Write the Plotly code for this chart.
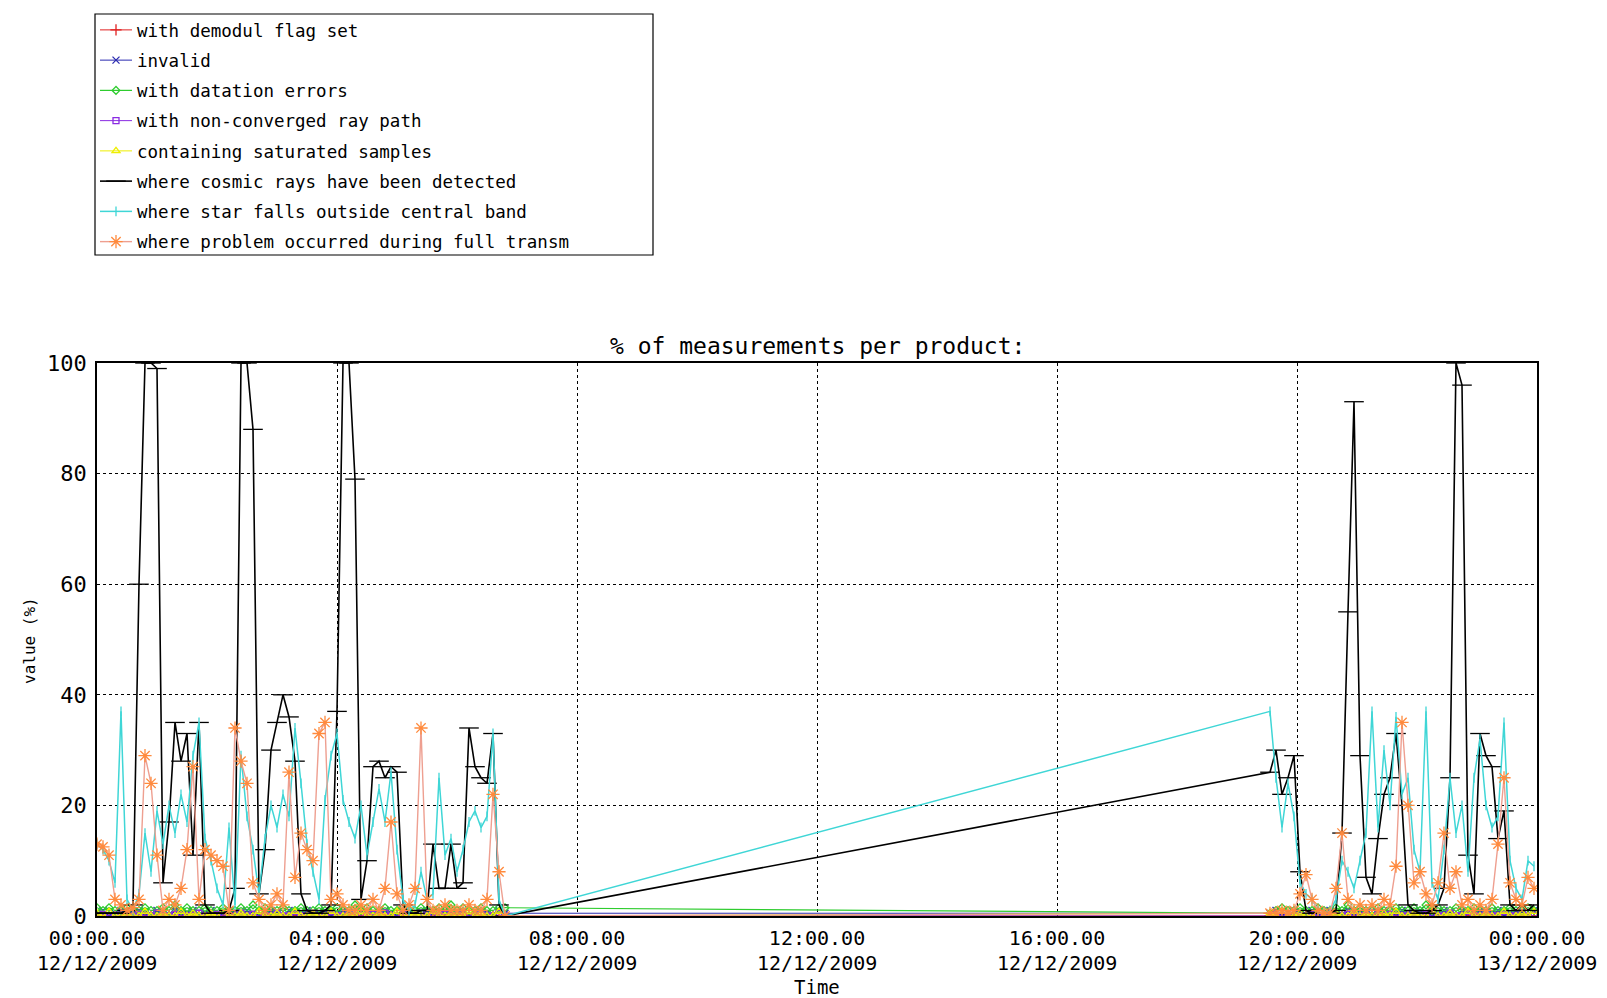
import datetime as dt
import plotly.graph_objects as go

# ---------------- data (hours after 00:00 12/12/2009) ----------------
t_w1 = [0.0, 0.1, 0.2, 0.3, 0.4, 0.5, 0.6, 0.7, 0.8, 0.9,
        1.0, 1.1, 1.2, 1.3, 1.4, 1.5, 1.6, 1.7, 1.8, 1.9,
        2.0, 2.1, 2.2, 2.3, 2.4, 2.5, 2.6, 2.7, 2.8, 2.9,
        3.0, 3.1, 3.2, 3.3, 3.4, 3.5, 3.6, 3.7, 3.8, 3.9,
        4.0, 4.1, 4.2, 4.3, 4.4, 4.5, 4.6, 4.7, 4.8, 4.9,
        5.0, 5.1, 5.2, 5.3, 5.4, 5.5, 5.6, 5.7, 5.8, 5.9,
        6.0, 6.1, 6.2, 6.3, 6.4, 6.5, 6.6, 6.7, 6.8]
t_w2 = [19.55, 19.65, 19.75, 19.85, 19.95, 20.05, 20.15, 20.25, 20.35, 20.45,
        20.55, 20.65, 20.75, 20.85, 20.95, 21.05, 21.15, 21.25, 21.35, 21.45,
        21.55, 21.65, 21.75, 21.85, 21.95, 22.05, 22.15, 22.25, 22.35, 22.45,
        22.55, 22.65, 22.75, 22.85, 22.95, 23.05, 23.15, 23.25, 23.35, 23.45,
        23.55, 23.65, 23.75, 23.85, 23.95]

cosmic_w1 = [0.5, 0.5, 0.5, 0.5, 0.5, 1, 2, 60, 100, 100,
             99, 6, 17, 35, 28, 33, 11, 35, 2, 0.5,
             0.5, 0.5, 1, 5, 100, 100, 88, 4, 12, 30,
             35, 40, 36, 28, 4, 1, 0.5, 0.5, 1, 2,
             37, 100, 100, 79, 3, 10, 27, 28, 25, 27,
             26, 2, 0.5, 0.5, 1, 1, 13, 5, 5, 13,
             5, 6, 34, 27, 25, 24, 33, 2, 0]
cosmic_w2 = [26, 30, 22, 25, 29, 8, 1, 0.5, 0.5, 0.5,
             0.5, 1, 15, 55, 93, 29, 7, 4, 14, 22,
             25, 33, 20, 2, 1, 0.5, 0.5, 1, 2, 5,
             25, 100, 96, 11, 4, 33, 29, 27, 14, 19,
             2, 1, 2, 1, 2]

star_w1 = [13, 12, 10, 6, 37, 3, 1, 4, 15, 8,
           19, 13, 20, 15, 22, 17, 29, 35, 14, 10,
           5, 2, 16, 2, 29, 18, 12, 4, 14, 20,
           16, 22, 18, 34, 24, 13, 8, 3, 21, 29,
           33, 21, 17, 14, 20, 11, 17, 23, 17, 26,
           12, 3, 1, 2, 8, 3, 4, 25, 11, 14,
           8, 12, 17, 19, 16, 18, 33, 3, 0]
star_w2 = [37, 25, 16, 24, 18, 6, 4, 3, 1, 0.5,
           1, 3, 10, 8, 5, 10, 15, 37, 16, 30,
           20, 36, 22, 25, 12, 8, 37, 6, 3, 12,
           25, 15, 20, 8, 25, 32, 20, 16, 18, 35,
           10, 5, 3, 10, 9]

transm_w1 = [13, 12.5, 11, 3, 2, 1, 1.5, 3, 29, 24,
             11, 1, 3, 2, 5, 12, 27, 3, 12, 11,
             10, 9, 1, 34, 28, 24, 6, 3, 1, 2,
             4, 2, 26, 7, 15, 12, 10, 33, 35, 3,
             4, 2, 1, 1, 2, 1, 3, 1, 5, 17,
             4, 1, 2, 5, 34, 3, 1, 1, 2, 1,
             1, 1, 2, 1, 1, 3, 22, 8, 0]
transm_w2 = [0.5, 0.5, 1, 0.5, 1, 4, 7.5, 3, 1, 0.5,
             0.5, 5, 15, 3, 1, 2, 1, 2, 1, 3,
             2, 9, 35, 20, 6, 8, 4, 2, 6, 15,
             5, 8, 2, 3, 1, 2, 1, 3, 13, 25,
             6, 3, 2, 7, 5]

demodul_w1 = [0, 0, 0, 0, 0, 0, 0, 0, 0, 0,
              0, 0, 0, 0, 0, 0, 0, 0, 0, 0,
              0, 0, 0, 0, 0, 0, 0, 0, 0, 0,
              0, 0, 0, 0, 0, 0, 0, 0, 0, 0,
              0, 0, 0, 0, 0, 0, 0, 0, 0, 0,
              0, 0, 0, 0, 0, 0, 0, 0, 0, 0,
              0, 0, 0, 0, 0, 0, 0, 0, 0]
demodul_w2 = [0, 0, 0, 0, 0, 0, 0, 0, 0, 0,
              0, 0, 0, 0, 0, 0, 0, 0, 0, 0,
              0, 0, 0, 0, 0, 0, 0, 0, 0, 0,
              0, 0, 0, 0, 0, 0, 0, 0, 0, 0,
              0, 0, 0, 0, 0]

invalid_w1 = [0.5, 1, 0, 0.5, 1, 0, 0.5, 1, 0.5, 0,
              1, 0.5, 0, 1, 0.5, 0.5, 1, 0, 0.5, 1,
              0, 0.5, 1, 0.5, 0, 1, 0.5, 0, 0.5, 1,
              0.5, 0, 1, 0.5, 0.5, 1, 0, 0.5, 1, 0,
              0.5, 1, 0.5, 0, 1, 0.5, 0, 0.5, 1, 0.5,
              0, 1, 0.5, 0.5, 0, 1, 0.5, 0, 1, 0.5,
              0.5, 1, 0, 0.5, 1, 0.5, 0, 1, 0.5]
invalid_w2 = [0.5, 1, 0, 0.5, 1, 0.5, 0, 1, 0.5, 0,
              1, 0.5, 0, 1, 0.5, 0.5, 1, 0, 0.5, 1,
              0, 0.5, 1, 0.5, 0, 1, 0.5, 0, 0.5, 1,
              0.5, 0, 1, 0.5, 0.5, 1, 0, 0.5, 1, 0,
              0.5, 1, 0.5, 0, 1]

datation_w1 = [1.5, 1, 1.5, 1, 1, 1.5, 1, 1, 1.5, 1,
               1, 1.5, 1, 2, 1, 1.5, 1, 1, 1.5, 1,
               1, 1.5, 1, 1, 1.5, 1, 2, 1, 1.5, 1,
               1, 1.5, 1, 1, 1.5, 1, 1, 1.5, 1, 1,
               1.5, 1, 1, 2, 1, 1.5, 1, 1, 1.5, 1,
               1, 1.5, 1, 1, 1.5, 1, 1, 1.5, 1, 2,
               1, 1.5, 1, 1, 1.5, 1, 1, 1.5, 1.5]
datation_w2 = [0.5, 1, 1.5, 1, 1, 1.5, 1, 1, 1.5, 1,
               1, 1.5, 1, 2, 1, 1.5, 1, 1, 1.5, 1,
               1, 1.5, 1, 1, 1.5, 1, 2, 1, 1.5, 1,
               1, 1.5, 1, 1, 1.5, 1, 1, 1.5, 1, 1,
               1.5, 1, 1, 1.5, 1]

rayp_w1 = [0, 0.3, 0, 0, 0.5, 0, 0, 0.3, 0, 0,
           0.5, 0, 0, 0.3, 0, 0, 0, 0.5, 0, 0,
           0.3, 0, 0, 0, 0.5, 0, 0.3, 0, 0, 0,
           0.5, 0, 0, 0.3, 0, 0, 0.5, 0, 0, 0.3,
           0, 0, 0.5, 0, 0, 0, 0.3, 0, 0.5, 0,
           0, 0.3, 0, 0, 0.5, 0, 0, 0, 0.3, 0,
           0, 0.5, 0, 0, 0.3, 0, 0, 0.5, 0]
rayp_w2 = [0, 0.3, 0, 0, 0.5, 0, 0, 0.3, 0, 0,
           0.5, 0, 0, 0.3, 0, 0, 0, 0.5, 0, 0,
           0.3, 0, 0, 0, 0.5, 0, 0.3, 0, 0, 0,
           0.5, 0, 0, 0.3, 0, 0, 0.5, 0, 0, 0.3,
           0, 0, 0.5, 0, 0]

satur_w1 = [0.5, 0, 0.8, 0, 0, 0.5, 0, 0, 0.8, 0,
            0, 0.5, 0, 0, 0.8, 0, 0.5, 0, 0, 0.5,
            0, 0.8, 0, 0, 0.5, 0, 0, 0.8, 0, 0,
            0.5, 0, 0, 0.8, 0, 0, 0.5, 0, 0, 0.8,
            0, 0, 0.5, 0, 0.8, 0, 0, 0.5, 0, 0,
            0.8, 0, 0, 0.5, 0, 0, 0.8, 0, 0, 0.5,
            0, 0, 0.8, 0, 0.5, 0, 0, 0.8, 0]
satur_w2 = [0.5, 0, 0.8, 0, 0, 0.5, 0, 0, 0.8, 0,
            0, 0.5, 0, 0, 0.8, 0, 0.5, 0, 0, 0.5,
            0, 0.8, 0, 0, 0.5, 0, 0, 0.8, 0, 0,
            0.5, 0, 0, 0.8, 0, 0, 0.5, 0, 0, 0.8,
            0, 0, 0.5, 0, 0.8]

legend_names = ["with demodul flag set", "invalid", "with datation errors",
                "with non-converged ray path", "containing saturated samples",
                "where cosmic rays have been detected",
                "where star falls outside central band",
                "where problem occurred during full transm"]
tick_hours = [0, 4, 8, 12, 16, 20, 24]
y_ticks = [0, 20, 40, 60, 80, 100]

# ---------------- figure ----------------
base = dt.datetime(2009, 12, 12)
hours = t_w1 + t_w2
xs = [base + dt.timedelta(hours=h) for h in hours]
tick_dates = [base + dt.timedelta(hours=h) for h in tick_hours]

FONT = "DejaVu Sans Mono"

# drawn in legend order (as the original plotting order)
series = [
    (demodul_w1 + demodul_w2, 0, "#e02020", "cross-thin-open", "#e02020", 8, 1.0),
    (invalid_w1 + invalid_w2, 1, "#2a2ab0", "x-thin-open", "#2a2ab0", 7, 1.0),
    (datation_w1 + datation_w2, 2, "#2ecc2e", "diamond-open", "#2ecc2e", 6, 1.2),
    (rayp_w1 + rayp_w2, 3, "#8a2be2", "square-open", "#8a2be2", 6, 1.0),
    (satur_w1 + satur_w2, 4, "#eeee00", "triangle-up-open", "#eeee00", 7, 1.0),
    (cosmic_w1 + cosmic_w2, 5, "#000000", "line-ew-open", "#000000", 14, 1.6),
    (star_w1 + star_w2, 6, "#3fd6d6", "line-ns-open", "#3fd6d6", 7, 1.5),
    (transm_w1 + transm_w2, 7, "#ee9f90", "asterisk-open", "#ff8a3d", 11, 1.4),
]

fig = go.Figure()
for vals, idx, lc, sym, mc, ms, lw in series:
    fig.add_trace(go.Scatter(
        x=xs, y=vals, mode="lines+markers", name=legend_names[idx],
        legendgroup=str(idx),
        line=dict(color=lc, width=lw),
        marker=dict(symbol=sym, size=ms, color=mc,
                    line=dict(color=mc, width=1.3)),
    ))

W, H = 1607, 998
L, R, T, B = 97, 1537, 363, 916
pw, ph = R - L, B - T

def px(x):
    return (x - L) / pw

def py(y):
    return (B - y) / ph

# second row of the time tick labels (the date)
date_labels = [dict(text=d.strftime("%d/%m/%Y"), x=d, xref="x", y=py(963), yref="paper",
                    xanchor="center", yanchor="middle", showarrow=False,
                    font=dict(family=FONT, size=20, color="black"))
               for d in tick_dates]

fig.update_layout(
    width=W, height=H,
    margin=dict(l=L, r=W - R, t=T, b=H - B, pad=0),
    paper_bgcolor="white", plot_bgcolor="white",
    font=dict(family=FONT, color="black", size=17),
    showlegend=True,
    legend=dict(x=px(95), y=py(12), xanchor="left", yanchor="top",
                bgcolor="rgba(0,0,0,0)", borderwidth=0,
                font=dict(family=FONT, size=17.5, color="black"),
                itemwidth=32, tracegroupgap=4.5, traceorder="grouped"),
    xaxis=dict(
        range=[base, base + dt.timedelta(hours=24)],
        tickvals=tick_dates,
        tickformat="%H:%M.%S",
        showgrid=True, gridcolor="black", griddash="dot", gridwidth=1,
        showline=True, linecolor="black", linewidth=1.5, mirror=True,
        ticks="", zeroline=False,
        tickfont=dict(family=FONT, size=20, color="black"),
        ticklabelstandoff=3,
    ),
    yaxis=dict(
        range=[0, 100], tickvals=y_ticks,
        showgrid=True, gridcolor="black", griddash="dot", gridwidth=1,
        showline=True, linecolor="black", linewidth=1.5, mirror=True,
        ticks="", zeroline=False,
        tickfont=dict(family=FONT, size=22, color="black"),
        ticklabelstandoff=4,
    ),
    shapes=[dict(type="rect", xref="paper", yref="paper",
                 x0=px(95), x1=px(653), y0=py(255), y1=py(14),
                 line=dict(color="black", width=1.2), fillcolor="rgba(0,0,0,0)")],
    annotations=[
        dict(text="% of measurements per product:", xref="paper", yref="paper",
             x=0.5, y=py(346), xanchor="center", yanchor="middle",
             showarrow=False, font=dict(family=FONT, size=23, color="black")),
        dict(text="value (%)", xref="paper", yref="paper", x=px(29), y=py(641),
             xanchor="center", yanchor="middle", textangle=-90,
             showarrow=False, font=dict(family=FONT, size=16, color="black")),
        dict(text="Time", xref="paper", yref="paper", x=0.5, y=py(987),
             xanchor="center", yanchor="middle",
             showarrow=False, font=dict(family=FONT, size=19, color="black")),
    ] + date_labels,
)

fig.write_html("out.html", config={"displayModeBar": False},
               post_script="document.body.style.margin='0px';")
